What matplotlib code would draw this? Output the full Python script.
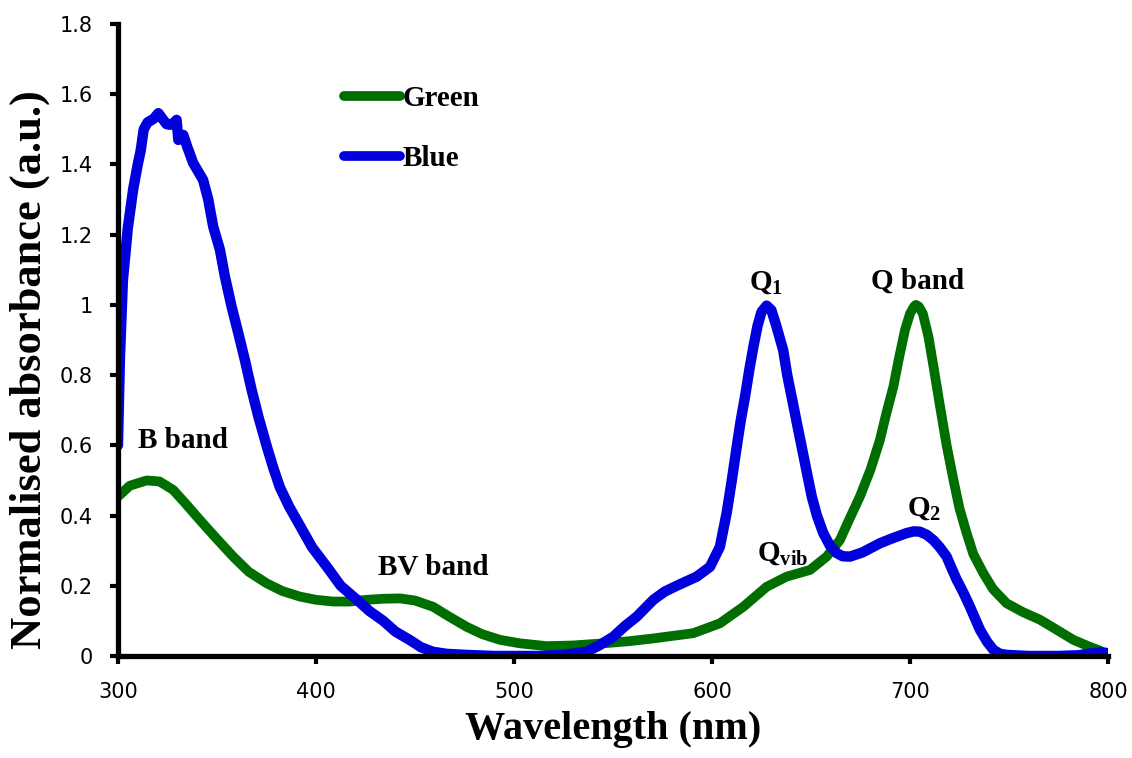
import matplotlib
matplotlib.use("Agg")
import matplotlib.pyplot as plt
from matplotlib.ticker import FuncFormatter

green_wl = [300, 306, 314.5, 321, 327.9, 334, 341.4, 350, 358.2, 366, 375.1, 383, 392,
            400, 408.7, 417, 425.6, 434, 442.4, 450, 459.2, 467, 476.1, 484, 492.9,
            503, 516.5, 530, 545.1, 558, 570.4, 590.6, 604, 615.8, 627.6, 637.7,
            649.5, 657.9, 664.6, 669, 674.7, 680, 684.8, 688, 691.6, 694.5, 697.5,
            700, 702, 703, 704.5, 706.5, 709.3, 712, 715.2, 718.5, 722, 725, 728.6,
            732, 737, 742, 748.8, 757, 765.7, 774, 782.5, 790, 796, 800]
green_abs = [0.454, 0.485, 0.50, 0.497, 0.473, 0.435, 0.387, 0.333, 0.283, 0.240, 0.207,
             0.185, 0.169, 0.160, 0.155, 0.155, 0.160, 0.163, 0.164, 0.158, 0.140, 0.113,
             0.083, 0.062, 0.046, 0.036, 0.028, 0.030, 0.036, 0.042, 0.050, 0.065, 0.093,
             0.140, 0.197, 0.226, 0.245, 0.283, 0.330, 0.385, 0.454, 0.53, 0.615, 0.69,
             0.767, 0.85, 0.929, 0.975, 0.995, 1.0, 0.995, 0.975, 0.91, 0.82, 0.71, 0.60,
             0.50, 0.42, 0.35, 0.29, 0.236, 0.19, 0.150, 0.125, 0.103, 0.075, 0.046, 0.028,
             0.015, 0.003]

blue_wl = [300, 301, 302.5, 305, 307.7, 310, 311.5, 313, 315, 318, 320.4, 322.5, 324.5,
           326.3, 328.5, 329.6, 330.5, 333, 335, 338, 343, 345.6, 348.1, 351.5, 354,
           357.4, 360.8, 364.1, 367.5, 371, 375, 378.5, 381.8, 386.5, 392, 398, 405.5,
           412.5, 420.7, 427, 434, 440, 447.5, 453, 459, 466, 476, 490, 505, 513, 525,
           536.7, 543, 550.2, 556, 562, 570.4, 576, 582.2, 592.3, 599, 604, 607.4, 610,
           612.5, 614.5, 616.7, 619, 620.9, 623, 625, 627.6, 630, 632.5, 634.5, 636, 638,
           640.2, 643, 645.3, 648, 650.4, 653, 656.2, 659.5, 663, 666, 669.7, 676, 684.8,
           691, 698.3, 702, 705, 708.5, 711.8, 715, 718.5, 721, 723.6, 727, 730.3, 733,
           735.4, 739, 742.2, 745.5, 749, 760, 775, 785, 792, 797, 800]
blue_abs = [0.60, 0.85, 1.07, 1.22, 1.33, 1.40, 1.44, 1.50, 1.52, 1.53, 1.546, 1.53, 1.515,
            1.513, 1.52, 1.527, 1.47, 1.484, 1.45, 1.404, 1.356, 1.30, 1.223, 1.157, 1.081,
            0.995, 0.919, 0.843, 0.758, 0.68, 0.60, 0.535, 0.48, 0.425, 0.37, 0.31, 0.254,
            0.20, 0.16, 0.128, 0.10, 0.07, 0.045, 0.025, 0.012, 0.006, 0.003, 0.0, 0.0, 0.0,
            0.003, 0.012, 0.03, 0.055, 0.085, 0.112, 0.16, 0.183, 0.20, 0.226, 0.254, 0.311,
            0.407, 0.50, 0.596, 0.67, 0.739, 0.82, 0.88, 0.94, 0.98, 0.998, 0.985, 0.94,
            0.90, 0.87, 0.80, 0.739, 0.66, 0.596, 0.52, 0.454, 0.40, 0.35, 0.315, 0.293,
            0.284, 0.283, 0.295, 0.321, 0.335, 0.35, 0.355, 0.354, 0.345, 0.33, 0.31, 0.283,
            0.25, 0.217, 0.18, 0.14, 0.105, 0.074, 0.04, 0.017, 0.006, 0.003, 0.0, 0.0,
            0.002, 0.008, 0.01, 0.008]

labels = ["B band", "BV band", r"$\mathbf{Q_{1}}$", "Q band", r"$\mathbf{Q_{2}}$", r"$\mathbf{Q_{vib}}$"]
label_x = [333, 459, 627.5, 704, 707, 635.5]
label_y = [0.615, 0.252, 1.065, 1.068, 0.42, 0.293]

plt.rcParams['mathtext.fontset'] = 'custom'
plt.rcParams['mathtext.rm'] = 'Liberation Serif:bold'
plt.rcParams['mathtext.bf'] = 'Liberation Serif:bold'
plt.rcParams['mathtext.it'] = 'Liberation Serif:bold'

serif = 'Liberation Serif'
green_col = '#006e00'
blue_col = '#0000dc'

fig = plt.figure(figsize=(11.32, 7.58), dpi=100)
ax = fig.add_axes([0.1042, 0.1346, 0.8746, 0.8337])

ax.plot(green_wl, green_abs, color=green_col, lw=7, solid_capstyle='round',
        solid_joinstyle='round', label='Green')
ax.plot(blue_wl, blue_abs, color=blue_col, lw=7.5, solid_capstyle='round',
        solid_joinstyle='round', label='Blue')

for txt, x, y in zip(labels, label_x, label_y):
    ax.text(x, y, txt, ha='center', va='center', fontsize=21,
            fontweight='bold', family=serif)

ax.set_xlim(300, 800)
ax.set_ylim(0, 1.8)
ax.set_xticks([300, 400, 500, 600, 700, 800])
ax.set_yticks([0, 0.2, 0.4, 0.6, 0.8, 1.0, 1.2, 1.4, 1.6, 1.8])
ax.yaxis.set_major_formatter(FuncFormatter(lambda v, p: '%g' % round(v, 1)))

for s in ['top', 'right']:
    ax.spines[s].set_visible(False)
for s in ['left', 'bottom']:
    ax.spines[s].set_linewidth(3.8)
    ax.spines[s].set_zorder(5)

ax.tick_params(axis='both', direction='out', length=6, width=3)
ax.tick_params(axis='y', pad=12, labelsize=15)
ax.tick_params(axis='x', pad=13, labelsize=15)

ax.set_xlabel('Wavelength (nm)', fontsize=29, fontweight='bold', family=serif, labelpad=6)
ax.set_ylabel('Normalised absorbance (a.u.)', fontsize=32, fontweight='bold',
              family=serif, va='center')
ax.yaxis.set_label_coords(-0.089, 0.454)

leg = ax.legend(loc='upper left', bbox_to_anchor=(0.214, 0.927), frameon=False,
                prop={'family': serif, 'weight': 'bold', 'size': 21},
                handlelength=1.9, handletextpad=0.1, labelspacing=1.15, borderpad=0)
for line in leg.get_lines():
    line.set_linewidth(7)
    line.set_solid_capstyle('round')

fig.savefig('out.png', dpi=100)
